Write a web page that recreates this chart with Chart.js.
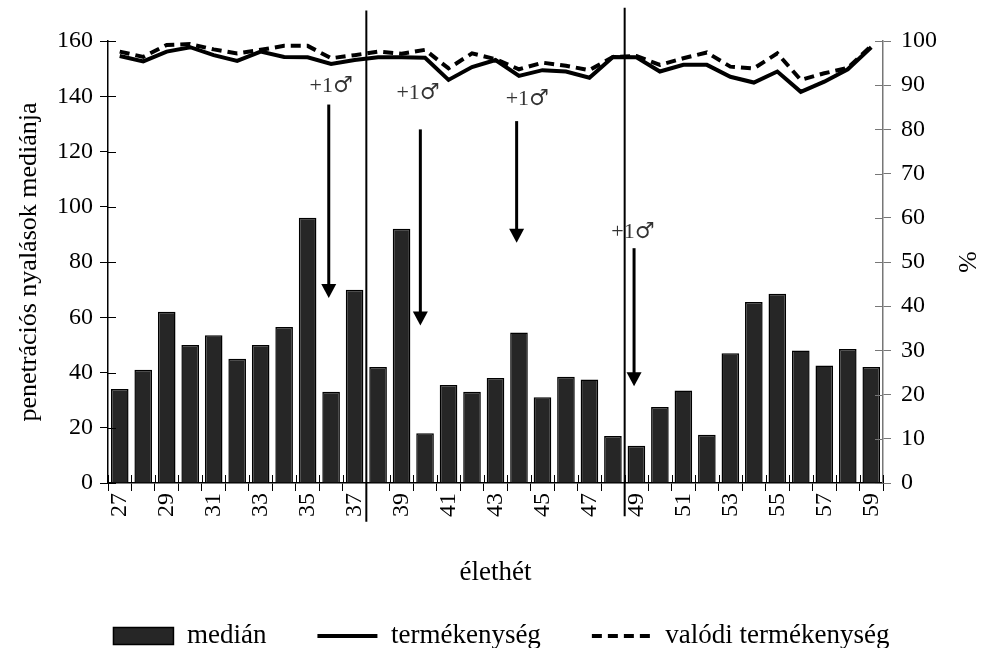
<!DOCTYPE html>
<html>
<head>
<meta charset="utf-8">
<script src="https://cdn.jsdelivr.net/npm/chart.js"></script>
<style>
    body { margin: 0; background: #fff; }
    #wrap { width: 981px; height: 648px; }
</style>
</head>
<body>
<div id="wrap"><canvas id="myChart"></canvas></div>
<script>
// weeks of life
const weeks = [27, 28, 29, 30, 31, 32, 33, 34, 35, 36, 37, 38, 39, 40, 41, 42, 43,
               44, 45, 46, 47, 48, 49, 50, 51, 52, 53, 54, 55, 56, 57, 58, 59];

// median number of penetrating licks
const median = [34, 41, 62, 50, 53.5, 45, 50, 56.5, 96, 33, 70, 42, 92, 18, 35.5, 33, 38,
                54.5, 31, 38.5, 37.5, 17, 13.5, 27.5, 33.5, 17.5, 47, 65.5, 68.5, 48, 42.5, 48.5, 42];

// fertility, %
const fertility = [96.6, 95.4, 97.6, 98.6, 96.8, 95.5, 97.6, 96.4, 96.3, 94.8, 95.7, 96.3, 96.3,
                   96.2, 91.2, 94.1, 95.7, 92.1, 93.4, 93.1, 91.7, 96.4, 96.3, 93.1, 94.6, 94.6,
                   91.9, 90.6, 93.1, 88.5, 90.8, 93.6, 98.6];

// real fertility, %
const realFertility = [97.6, 96.4, 99.1, 99.3, 98.1, 97.2, 98.0, 98.9, 98.9, 96.1, 96.8, 97.6, 97.1,
                       98.0, 93.8, 97.2, 95.9, 93.6, 95.1, 94.4, 93.4, 96.4, 96.6, 94.6, 96.1, 97.4,
                       94.2, 93.8, 97.2, 91.2, 92.7, 93.9, 98.9];

// separators between periods (week boundary, line ends on the left scale)
const phaseBreaks = [
    { week: 37.5, top: 171, bottom: -14 },
    { week: 48.5, top: 172, bottom: -12 }
];

// "+1 male" arrows (arrow week, shaft start, tip, label position)
const maleAdded = [
    { week: 35.9, from: 137, to: 67, labelWeek: 36.0, labelY: 144 },
    { week: 39.8, from: 128, to: 57, labelWeek: 39.7, labelY: 141.5 },
    { week: 43.9, from: 131, to: 87, labelWeek: 44.35, labelY: 139.4 },
    { week: 48.9, from: 85, to: 35, labelWeek: 48.85, labelY: 91.2 }
];

const firstWeek = weeks[0];

// cross ticks, separators, arrows and notes
const markers = {
    id: 'markers',
    afterDraw(chart) {
        const { ctx, chartArea, scales: { x, y, y2 } } = chart;
        ctx.save();

        // inner half of the axis ticks
        ctx.lineWidth = 1;
        ctx.strokeStyle = '#000';
        ctx.beginPath();
        for (let i = 0; i <= weeks.length; i++) {
            const px = Math.round(x.getPixelForValue(i - 0.5)) + 0.5;
            ctx.moveTo(px, chartArea.bottom);
            ctx.lineTo(px, chartArea.bottom - 8);
        }
        y.ticks.forEach((t, i) => {
            const py = Math.round(y.getPixelForTick(i)) + 0.5;
            ctx.moveTo(chartArea.left, py);
            ctx.lineTo(chartArea.left + 8, py);
        });
        ctx.stroke();
        ctx.strokeStyle = '#777';
        ctx.beginPath();
        y2.ticks.forEach((t, i) => {
            const py = Math.round(y2.getPixelForTick(i)) + 0.5;
            ctx.moveTo(chartArea.right, py);
            ctx.lineTo(chartArea.right - 8, py);
        });
        ctx.stroke();

        // period separators
        ctx.strokeStyle = '#000';
        ctx.lineWidth = 2;
        phaseBreaks.forEach(b => {
            const px = x.getPixelForValue(b.week - firstWeek);
            ctx.beginPath();
            ctx.moveTo(px, y.getPixelForValue(b.top));
            ctx.lineTo(px, y.getPixelForValue(b.bottom));
            ctx.stroke();
        });

        // arrows with labels
        maleAdded.forEach(m => {
            const px = x.getPixelForValue(m.week - firstWeek);
            const top = y.getPixelForValue(m.from);
            const tip = y.getPixelForValue(m.to);
            ctx.strokeStyle = '#000';
            ctx.fillStyle = '#000';
            ctx.lineWidth = 3;
            ctx.beginPath();
            ctx.moveTo(px, top);
            ctx.lineTo(px, tip - 12);
            ctx.stroke();
            ctx.beginPath();
            ctx.moveTo(px - 7.5, tip - 14);
            ctx.lineTo(px + 7.5, tip - 14);
            ctx.lineTo(px, tip);
            ctx.closePath();
            ctx.fill();

            // "+1" followed by a larger male sign
            const lx = x.getPixelForValue(m.labelWeek - firstWeek);
            const ly = y.getPixelForValue(m.labelY);
            ctx.fillStyle = '#333';
            ctx.textBaseline = 'alphabetic';
            ctx.font = "22px 'Liberation Serif', serif";
            const w1 = ctx.measureText('+1').width;
            ctx.font = "22px 'DejaVu Serif', serif";
            const w2 = ctx.measureText('\u2642').width;
            const start = lx - (w1 + w2) / 2;
            ctx.textAlign = 'left';
            ctx.font = "22px 'Liberation Serif', serif";
            ctx.fillText('+1', start, ly + 7);
            ctx.font = "22px 'DejaVu Serif', serif";
            ctx.fillText('\u2642', start + w1, ly + 7);
        });
        ctx.restore();
    }
};

Chart.defaults.font.family = "'Liberation Serif', 'Times New Roman', serif";
Chart.defaults.color = '#000';

const ctx = document.getElementById('myChart').getContext('2d');
const myChart = new Chart(ctx, {
    data: {
        labels: weeks.map(String),
        datasets: [
            {
                type: 'bar',
                label: 'medián',
                data: median,
                yAxisID: 'y',
                backgroundColor: '#262626',
                borderColor: '#000',
                borderWidth: 1.5,
                barPercentage: 0.75,
                categoryPercentage: 1,
                pointStyle: 'rect',
                order: 3
            },
            {
                type: 'line',
                label: 'termékenység',
                data: fertility,
                yAxisID: 'y2',
                borderColor: '#000',
                backgroundColor: '#000',
                borderWidth: 4,
                pointRadius: 0,
                tension: 0,
                pointStyle: 'line',
                order: 2
            },
            {
                type: 'line',
                label: 'valódi termékenység',
                data: realFertility,
                yAxisID: 'y2',
                borderColor: '#000',
                backgroundColor: '#000',
                borderWidth: 4,
                borderDash: [10, 6],
                pointRadius: 0,
                tension: 0,
                pointStyle: 'line',
                order: 1
            }
        ]
    },
    options: {
        responsive: true,
        maintainAspectRatio: false,
        animation: false,
        layout: {
            padding: { top: 41, left: 22, right: 0, bottom: -11.5 }
        },
        plugins: {
            legend: {
                position: 'bottom',
                labels: {
                    usePointStyle: true,
                    pointStyleWidth: 60,
                    boxHeight: 17,
                    padding: 51,
                    color: '#000',
                    font: { size: 27 },
                    // keep dataset order and show the dash of the second line
                    generateLabels: chart => {
                        const items = Chart.defaults.plugins.legend.labels.generateLabels(chart);
                        items.forEach(it => {
                            it.lineDash = chart.data.datasets[it.datasetIndex].borderDash || [];
                        });
                        return items.sort((a, b) => a.datasetIndex - b.datasetIndex);
                    }
                }
            },
            tooltip: { enabled: false }
        },
        scales: {
            x: {
                offset: true,
                grid: { offset: true, drawOnChartArea: false, tickLength: 8, color: '#000' },
                border: { color: '#000', width: 1.5 },
                ticks: {
                    autoSkip: false,
                    minRotation: 90,
                    maxRotation: 90,
                    padding: 2,
                    font: { size: 24 },
                    callback: function(val, i) {
                        return i % 2 === 0 ? this.getLabelForValue(val) : '';
                    }
                },
                title: {
                    display: true,
                    text: 'élethét',
                    font: { size: 27 },
                    padding: { top: 0, bottom: -17.7 }
                },
                afterFit: s => { s.height = 88.5; }
            },
            y: {
                position: 'left',
                min: 0,
                max: 160,
                ticks: { stepSize: 20, padding: 7, font: { size: 24 } },
                grid: { drawOnChartArea: false, tickLength: 8, color: '#000' },
                border: { color: '#000', width: 1.5 },
                title: {
                    display: true,
                    text: 'penetrációs nyalások mediánja',
                    font: { size: 26 },
                    padding: { top: -8, bottom: 0 }
                },
                afterFit: s => { s.width = 86; }
            },
            y2: {
                position: 'right',
                min: 0,
                max: 100,
                ticks: { stepSize: 10, padding: 10, font: { size: 24 } },
                grid: { drawOnChartArea: false, tickLength: 8, color: '#777' },
                border: { color: '#777', width: 1.5 },
                title: {
                    display: true,
                    text: '%',
                    font: { size: 26 },
                    padding: { top: 0, bottom: 1 }
                },
                afterFit: s => { s.width = 98; }
            }
        }
    },
    plugins: [markers]
});
</script>
</body>
</html>
